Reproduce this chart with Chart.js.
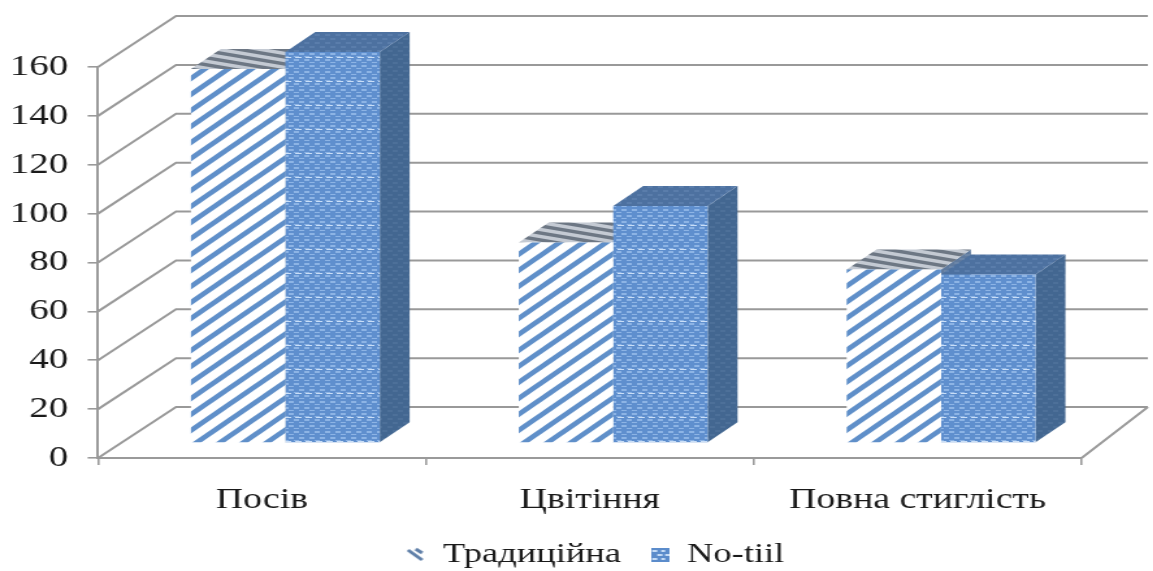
<!DOCTYPE html>
<html>
<head>
<meta charset="utf-8">
<style>
  html, body { margin: 0; padding: 0; background: #fff; overflow: hidden; }
  /* полотно розтягнуте по горизонталі разом з текстом */
  #chart { display: block; transform-origin: 0 0; transform: scaleX(1.3); }
</style>
<script src="https://cdn.jsdelivr.net/npm/chart.js@4"></script>
</head>
<body>
<canvas id="chart" width="887" height="571"></canvas>
<script>
const categories = ['Посів', 'Цвітіння', 'Повна стиглість'];
const seriesNames = ['Традиційна', 'No-tiil'];
const traditional = [153, 82, 71];
const noTill = [160, 97, 69];
const yTicks = [0, 20, 40, 60, 80, 100, 120, 140, 160];

const fontFamily = '"Liberation Serif", "Times New Roman", serif';
const axisColor = '#9a9a9a';
const gridColor = '#999999';

// зсув стін і глибина стовпчиків
const wallLeftX = 60, wallRightX = 51, wallY = 51;
const barShiftX = 18, barShiftY = 15;
const barDepthX = 23, barDepthY = 20;

function makeTile(w, h, paint) {
    const c = document.createElement('canvas');
    c.width = w;
    c.height = h;
    paint(c.getContext('2d'), w, h);
    return c;
}

function stripes(color, back, w, h, lineWidth, rising) {
    return makeTile(w, h, (g) => {
        g.fillStyle = back;
        g.fillRect(0, 0, w, h);
        g.strokeStyle = color;
        g.lineWidth = lineWidth;
        // лінії виходять за межі плитки, щоб не було швів
        for (let i = -2; i <= 2; i++) {
            g.beginPath();
            if (rising) {
                g.moveTo(i * w - w, 2 * h);
                g.lineTo(i * w + 2 * w, -h);
            } else {
                g.moveTo(i * w - w, -h);
                g.lineTo(i * w + 2 * w, 2 * h);
            }
            g.stroke();
        }
    });
}

function weave(back, dash, w, h) {
    return makeTile(w, h, (g) => {
        g.fillStyle = back;
        g.fillRect(0, 0, w, h);
        g.fillStyle = dash;
        g.fillRect(0, 1, w / 2, 2);
        g.fillRect(w / 2, h / 2 + 1, w / 2, 2);
    });
}

// дрібне плетіння зі світлим рядком рисок через кожні 24 пікселі
function banded(back, dash, band) {
    return makeTile(8, 24, (g) => {
        g.fillStyle = back;
        g.fillRect(0, 0, 8, 24);
        for (let row = 0; row < 4; row++) {
            g.fillStyle = dash;
            g.fillRect(row % 2 ? 4 : 0, row * 6 + 2, 4, 2);
            g.fillRect(row % 2 ? 0 : 4, row * 6 + 5, 4, 1);
        }
        g.fillStyle = band;
        g.fillRect(1, 0, 5, 1);
    });
}

const ctx = document.getElementById('chart').getContext('2d');

const frontFill = [
    ctx.createPattern(stripes('#5f8fc9', '#ffffff', 18, 16, 4.6, true), 'repeat'),
    ctx.createPattern(banded('#5f8fce', '#8db4e5', '#c9def7'), 'repeat')
];
const topFill = [
    ctx.createPattern(stripes('#6d7784', '#c4cad3', 32, 7, 3.4, false), 'repeat'),
    ctx.createPattern(weave('#4d71a0', '#5a7dab', 8, 8), 'repeat')
];
const sideFill = [
    ctx.createPattern(weave('#5f7a9e', '#6c86a8', 8, 8), 'repeat'),
    ctx.createPattern(weave('#436791', '#4d7099', 8, 8), 'repeat')
];

// значки легенди
const legendIcons = [
    makeTile(14, 16, (g) => {
        g.strokeStyle = '#5f7fa8';
        g.lineWidth = 3;
        g.beginPath();
        g.moveTo(1, 3);
        g.lineTo(12, 13);
        g.moveTo(7, 2);
        g.lineTo(12, 6);
        g.stroke();
    }),
    makeTile(14, 16, (g) => {
        g.fillStyle = '#5b8ccb';
        g.fillRect(0, 1, 14, 14);
        g.fillStyle = '#c4dbf5';
        for (let y = 3; y < 15; y += 4) {
            g.fillRect(y % 8 === 3 ? 1 : 5, y, 4, 2);
            g.fillRect(y % 8 === 3 ? 8 : 11, y, 3, 2);
        }
    })
];

function polygon(g, fill, points) {
    g.fillStyle = fill;
    g.beginPath();
    points.forEach((p, i) => (i ? g.lineTo(p[0], p[1]) : g.moveTo(p[0], p[1])));
    g.closePath();
    g.fill();
}

const room3d = {
    id: 'room3d',
    afterLayout(chart) {
        const legend = chart.legend;
        legend.left += 42;
        legend.right += 42;
    },
    beforeDatasetsDraw(chart) {
        const g = chart.ctx;
        const y = chart.scales.y;
        const { left, right, bottom } = chart.chartArea;
        g.save();
        // діагоналі та лінії сітки на задній стіні
        g.strokeStyle = gridColor;
        g.lineWidth = 2;
        yTicks.forEach((v) => {
            const py = y.getPixelForValue(v);
            g.beginPath();
            g.moveTo(left, py);
            g.lineTo(left + wallLeftX, py - wallY);
            g.lineTo(right + wallRightX, py - wallY);
            g.stroke();
        });
        g.beginPath();
        g.moveTo(right, bottom);
        g.lineTo(right + wallRightX, bottom - wallY);
        g.stroke();

        // бічні й верхні грані, передні малює сама бібліотека
        g.translate(barShiftX, -barShiftY);
        [0, 1].forEach((i) => {
            chart.getDatasetMeta(i).data.forEach((bar) => {
                const x2 = bar.x + bar.width / 2;
                const x1 = bar.x - bar.width / 2;
                polygon(g, sideFill[i], [
                    [x2, bar.y], [x2 + barDepthX, bar.y - barDepthY],
                    [x2 + barDepthX, bar.base - barDepthY], [x2, bar.base]
                ]);
                polygon(g, topFill[i], [
                    [x1, bar.y], [x1 + barDepthX, bar.y - barDepthY],
                    [x2 + barDepthX, bar.y - barDepthY], [x2, bar.y]
                ]);
            });
        });
        g.restore();
    },
    beforeDatasetDraw(chart) {
        chart.ctx.save();
        chart.ctx.translate(barShiftX, -barShiftY);
    },
    afterDatasetDraw(chart) {
        chart.ctx.restore();
    }
};

new Chart(ctx, {
    type: 'bar',
    data: {
        labels: categories,
        datasets: [
            { label: seriesNames[0], data: traditional, backgroundColor: frontFill[0] },
            { label: seriesNames[1], data: noTill, backgroundColor: frontFill[1] }
        ]
    },
    plugins: [room3d],
    options: {
        responsive: false,
        animation: false,
        devicePixelRatio: 1,
        categoryPercentage: 0.576,
        barPercentage: 1,
        borderWidth: 0,
        layout: { padding: { left: 0, right: 55, top: 67, bottom: -8 } },
        scales: {
            x: {
                afterFit(scale) { scale.height = 60; },
                grid: { drawOnChartArea: false, color: axisColor, tickLength: 7, lineWidth: 1.6 },
                border: { color: axisColor, width: 2 },
                ticks: { color: '#1a1a1a', font: { family: fontFamily, size: 29 }, padding: 18, maxRotation: 0 }
            },
            y: {
                min: 0,
                max: 160,
                afterFit(scale) { scale.width = 75.4; },
                grid: { drawOnChartArea: false, color: axisColor, tickLength: 8, lineWidth: 1.6 },
                border: { color: axisColor, width: 2 },
                ticks: {
                    stepSize: 20,
                    color: '#1a1a1a',
                    font: { family: fontFamily, size: 30 },
                    padding: 15
                }
            }
        },
        plugins: {
            tooltip: { enabled: false },
            legend: {
                position: 'bottom',
                labels: {
                    usePointStyle: true,
                    pointStyleWidth: 14,
                    color: '#1a1a1a',
                    font: { family: fontFamily, size: 28 },
                    padding: 23,
                    generateLabels(chart) {
                        return Chart.defaults.plugins.legend.labels.generateLabels(chart).map((item) => {
                            item.pointStyle = legendIcons[item.datasetIndex];
                            return item;
                        });
                    }
                }
            }
        }
    }
});
</script>
</body>
</html>
